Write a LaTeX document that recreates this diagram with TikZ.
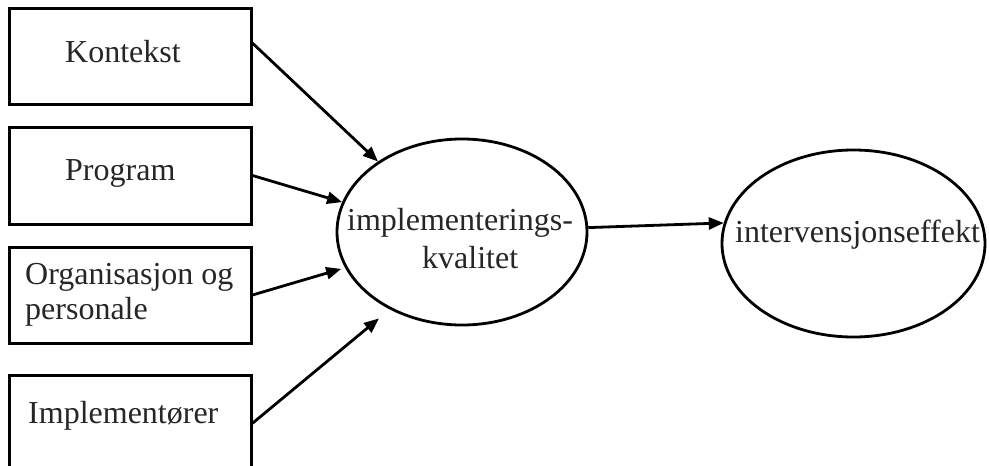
\documentclass[tikz,border=0pt]{standalone}
\usepackage{fontspec}
\setmainfont{Liberation Serif}
\usetikzlibrary{shapes.geometric,arrows.meta}
\begin{document}
\begin{tikzpicture}[x=1pt,y=-1pt,
  box/.style={draw, rectangle, line width=3pt, minimum width=242pt, inner sep=0pt},
  oval/.style={draw, ellipse, line width=2.8pt, inner sep=0pt},
  lbl/.style={anchor=base west, inner sep=0pt, font=\fontsize{32}{38}\selectfont, text=black!85},
  arr/.style={line width=2.8pt, -{Triangle[length=15pt,width=12pt]}}]
\useasboundingbox (0,0) rectangle (989,466);
\clip (0,0) rectangle (989,466);
\fill[white] (0,0) rectangle (989,466);

\node[box, minimum height=96pt]  (k) at (130,56) {};
\node[box, minimum height=97pt]  (p) at (130,175.5) {};
\node[box, minimum height=96pt]  (o) at (130,295) {};
\node[box, minimum height=105pt] (i) at (130,427.5) {};

\node[oval, minimum width=250pt, minimum height=186pt] (e1) at (462,232) {};
\node[oval, minimum width=263pt, minimum height=187pt] (e2) at (853.5,243.5) {};

\node[lbl] (tk) at (65,62) {Kontekst};
\node[lbl] (tp) at (65,180) {Program};
\node[lbl] (to1) at (25,284) {Organisasjon og};
\node[lbl] (to2) at (25,319) {personale};
\node[lbl] (ti) at (28,423) {Implementører};
\node[lbl] (te1) at (347,230) {implementerings-};
\node[lbl] (te2) at (422,268) {kvalitet};
\node[lbl] (te3) at (735,242) {intervensjonseffekt};

\draw[arr] (k.6) -- (e1.140);
\draw[arr] (p.east) -- (e1.166);
\draw[arr, shorten >=4pt] (o.east) -- (e1.197.8);
\draw[arr, shorten >=14pt] (i.2) -- (e1.227.7);
\draw[arr] (e1.2) -- (e2.171.6);
\end{tikzpicture}
\end{document}
